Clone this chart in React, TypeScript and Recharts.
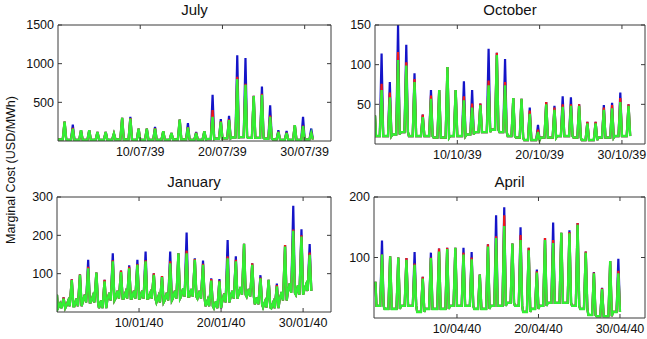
import React from 'react';
import { LineChart, Line, XAxis, YAxis } from 'recharts';

const FONT = '"Liberation Sans", Arial, Helvetica, sans-serif';

// ---------- July 1939 (daily trough / peak values, USD/MWh) ----------
const julyStart = 20;
const julyBase = [20, 15, 15, 15, 15, 15, 15, 20, 20, 15, 15, 15, 15, 15, 20, 20, 15, 15, 25, 30, 35, 45, 50, 40, 40, 30, 20, 15, 15, 15, 20];
const julyGreen = [250, 160, 140, 140, 117, 117, 96, 300, 290, 160, 160, 160, 126, 104, 278, 174, 104, 126, 313, 248, 270, 800, 726, 580, 596, 313, 117, 104, 204, 191, 104];
const julyRed = [250, 170, 140, 140, 117, 117, 96, 300, 295, 160, 160, 165, 126, 104, 278, 180, 108, 126, 400, 255, 280, 830, 740, 585, 610, 330, 120, 108, 204, 200, 110];
const julyBlue = [250, 213, 140, 140, 117, 117, 96, 300, 313, 160, 160, 183, 126, 104, 278, 230, 117, 126, 596, 283, 326, 1109, 1074, 583, 705, 461, 139, 130, 204, 313, 161];
const julyTicks = [10, 20, 30];
const julyTickLabels = ['10/07/39', '20/07/39', '30/07/39'];
const julyYTicks = [500, 1000, 1500];

// ---------- October 1939 ----------
const octStart = 36;
const octBase = [10, 10, 12, 15, 10, 10, 10, 8, 8, 10, 10, 12, 15, 15, 18, 15, 10, 8, 5, 5, 8, 8, 10, 10, 8, 5, 5, 8, 8, 10, 10];
const octGreen = [68, 59, 106, 99, 78, 34, 57, 68, 97, 68, 55, 46, 49, 74, 112, 74, 58, 57, 38, 15, 50, 43, 47, 48, 48, 26, 26, 43, 45, 53, 48];
const octRed = [76, 65, 116, 103, 82, 37, 61, 68, 97, 68, 60, 51, 51, 80, 115, 78, 58, 57, 42, 18, 53, 46, 50, 50, 50, 28, 28, 46, 49, 58, 50];
const octBlue = [114, 78, 150, 125, 89, 37, 68, 68, 97, 68, 79, 68, 51, 120, 115, 107, 58, 57, 46, 24, 53, 48, 60, 59, 50, 28, 28, 49, 52, 65, 50];
const octTicks = [10, 20, 30];
const octTickLabels = ['10/10/39', '20/10/39', '30/10/39'];
const octYTicks = [50, 100, 150];

// ---------- January 1940 ----------
const janStart = 45;
const janBase = [10, 15, 15, 25, 25, 10, 30, 35, 35, 35, 35, 35, 25, 30, 35, 40, 40, 35, 15, 10, 25, 35, 45, 40, 20, 12, 10, 30, 50, 45, 55];
const janMid = [22, 30, 35, 45, 42, 30, 50, 55, 52, 55, 55, 50, 42, 50, 55, 62, 60, 55, 32, 28, 48, 55, 65, 60, 38, 28, 26, 52, 75, 70, 72];
const janGreen = [35, 83, 97, 114, 103, 80, 132, 104, 114, 123, 132, 97, 91, 127, 153, 153, 136, 123, 82, 80, 140, 132, 178, 123, 88, 84, 67, 171, 212, 197, 149];
const janRed = [38, 85, 98, 118, 103, 84, 135, 108, 118, 125, 135, 101, 94, 132, 153, 160, 138, 126, 86, 82, 145, 136, 178, 127, 90, 84, 70, 175, 215, 200, 155];
const janBlue = [38, 85, 98, 136, 103, 84, 153, 108, 122, 136, 158, 101, 94, 158, 153, 207, 140, 134, 88, 86, 188, 145, 178, 127, 96, 84, 74, 175, 277, 216, 177];
const janTicks = [10, 20, 30];
const janTickLabels = ['10/01/40', '20/01/40', '30/01/40'];
const janYTicks = [100, 200, 300];

// ---------- April 1940 ----------
const aprStart = 60;
const aprBase = [20, 15, 15, 20, 20, 10, 15, 15, 15, 20, 20, 20, 15, 15, 20, 20, 25, 20, 10, 15, 20, 25, 25, 25, 20, 15, 5, 3, 3, 10];
const aprGreen = [105, 102, 100, 96, 88, 65, 99, 110, 114, 116, 105, 97, 72, 118, 132, 152, 123, 129, 112, 75, 129, 124, 141, 140, 154, 108, 74, 48, 94, 74];
const aprRed = [105, 102, 100, 99, 90, 68, 100, 115, 116, 116, 108, 100, 72, 122, 135, 170, 123, 137, 116, 77, 132, 129, 141, 142, 157, 110, 75, 49, 94, 78];
const aprBlue = [128, 102, 100, 99, 109, 68, 108, 115, 116, 116, 116, 109, 72, 122, 170, 183, 123, 150, 116, 80, 132, 158, 141, 145, 157, 110, 76, 50, 94, 98];
const aprTicks = [10, 20, 30];
const aprTickLabels = ['10/04/40', '20/04/40', '30/04/40'];
const aprYTicks = [100, 200];

type Row = { x: number; blue: number; red: number; green: number };

function buildSeries(start: number, base: number[], green: number[], red: number[], blue: number[], mid?: number[]): Row[] {
  const rows: Row[] = [{ x: 0, blue: start, red: start, green: start }];
  base.forEach((b, d) => {
    rows.push({ x: d + 0.12, blue: b, red: b, green: b });
    if (mid) {
      const m = mid[d];
      rows.push({ x: d + 0.38, blue: m, red: m, green: m });
      rows.push({ x: d + 0.55, blue: b, red: b, green: b });
    } else {
      rows.push({ x: d + 0.58, blue: b, red: b, green: b });
    }
    rows.push({ x: d + 0.8, blue: blue[d], red: red[d], green: green[d] });
    rows.push({ x: d + 1.0, blue: b, red: b, green: b });
  });
  return rows;
}

const BLUE = '#1414c8';
const RED = '#f01818';
const GREEN = '#33ee33';
const AXIS = '#3a3a3a';

type PanelProps = {
  rect: [number, number, number, number];
  data: Row[];
  xDomain: [number, number];
  xTicks: number[];
  xLabels: string[];
  yDomain: [number, number];
  yTicks: number[];
  title: string;
};

function Panel({ rect, data, xDomain, xTicks, xLabels, yDomain, yTicks, title }: PanelProps) {
  const [x0, y0, x1, y1] = rect;
  const LW = 50;
  const TH = 24;
  const BH = 26;
  const RW = 4;
  const tickStyle = { fontSize: 12.5, fill: '#111', fontFamily: FONT };
  const labelFor = (v: number) => {
    const i = xTicks.indexOf(v);
    return i >= 0 ? xLabels[i] : '';
  };
  return (
    <div style={{ position: 'absolute', left: x0 - LW, top: y0 - TH }}>
      <LineChart
        width={x1 - x0 + LW + RW}
        height={y1 - y0 + TH + BH}
        data={data}
        margin={{ top: 0, right: 0, bottom: 0, left: 0 }}
      >
        <text
          x={LW + (x1 - x0) / 2}
          y={TH - 10}
          textAnchor="middle"
          style={{ fontSize: 15, fontFamily: FONT, fill: '#111' }}
        >
          {title}
        </text>
        <XAxis
          xAxisId="b"
          dataKey="x"
          type="number"
          domain={xDomain}
          allowDataOverflow
          ticks={xTicks}
          interval={0}
          tickFormatter={labelFor}
          height={BH}
          tickSize={-4}
          tickMargin={10}
          stroke={AXIS}
          tick={tickStyle}
        />
        <XAxis
          xAxisId="t"
          orientation="top"
          dataKey="x"
          type="number"
          domain={xDomain}
          allowDataOverflow
          ticks={xTicks}
          interval={0}
          tickFormatter={() => ''}
          height={TH}
          tickSize={-4}
          stroke={AXIS}
        />
        <YAxis
          yAxisId="l"
          type="number"
          domain={yDomain}
          allowDataOverflow
          ticks={yTicks}
          interval={0}
          width={LW}
          tickSize={-4}
          tickMargin={8}
          stroke={AXIS}
          tick={tickStyle}
        />
        <YAxis
          yAxisId="r"
          orientation="right"
          type="number"
          domain={yDomain}
          allowDataOverflow
          ticks={yTicks}
          interval={0}
          width={RW}
          tickSize={-4}
          tickFormatter={() => ''}
          stroke={AXIS}
        />
        <Line xAxisId="b" yAxisId="l" type="linear" dataKey="blue" stroke={BLUE} strokeWidth={2.2} dot={false} isAnimationActive={false} />
        <Line xAxisId="b" yAxisId="l" type="linear" dataKey="red" stroke={RED} strokeWidth={2.2} dot={false} isAnimationActive={false} />
        <Line xAxisId="b" yAxisId="l" type="linear" dataKey="green" stroke={GREEN} strokeWidth={2.4} dot={false} isAnimationActive={false} />
      </LineChart>
    </div>
  );
}

export default function App() {
  const july = buildSeries(julyStart, julyBase, julyGreen, julyRed, julyBlue);
  const oct = buildSeries(octStart, octBase, octGreen, octRed, octBlue);
  const jan = buildSeries(janStart, janBase, janGreen, janRed, janBlue, janMid);
  const apr = buildSeries(aprStart, aprBase, aprGreen, aprRed, aprBlue);
  return (
    <div style={{ position: 'absolute', left: 0, top: 0, width: 647, height: 339, background: '#fff', overflow: 'hidden', fontFamily: FONT }}>
      <Panel rect={[58, 25, 331, 141]} data={july} xDomain={[0, 33.2]} xTicks={julyTicks} xLabels={julyTickLabels} yDomain={[0, 1500]} yTicks={julyYTicks} title="July" />
      <Panel rect={[375, 25, 645, 144]} data={oct} xDomain={[0, 32.8]} xTicks={octTicks} xLabels={octTickLabels} yDomain={[0, 150]} yTicks={octYTicks} title="October" />
      <Panel rect={[57, 197, 331, 312]} data={jan} xDomain={[0, 33.4]} xTicks={janTicks} xLabels={janTickLabels} yDomain={[0, 300]} yTicks={janYTicks} title="January" />
      <Panel rect={[374, 197, 645, 318]} data={apr} xDomain={[-0.18, 33.07]} xTicks={aprTicks} xLabels={aprTickLabels} yDomain={[0, 200]} yTicks={aprYTicks} title="April" />
      <svg width={647} height={339} style={{ position: 'absolute', left: 0, top: 0, pointerEvents: 'none' }}>
        <text
          x={11}
          y={170}
          transform="rotate(-90 11 170)"
          textAnchor="middle"
          dominantBaseline="central"
          style={{ fontSize: 12.5, fontFamily: FONT, fill: '#111' }}
        >
          Marginal Cost (USD/MWh)
        </text>
      </svg>
    </div>
  );
}
